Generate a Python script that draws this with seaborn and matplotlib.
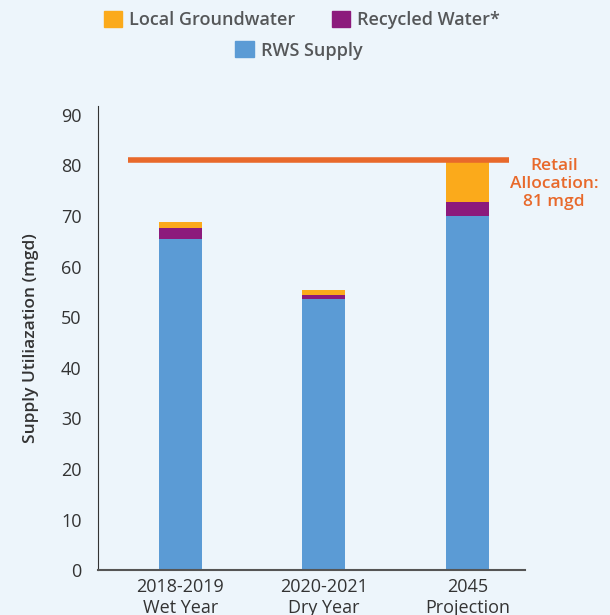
import numpy as np
import pandas as pd
import seaborn as sns
import matplotlib.pyplot as plt
from matplotlib.patches import Patch

# values (mgd)
periods = ["2018-2019\nWet Year", "2020-2021\nDry Year", "2045\nProjection"]
rws_supply = [65.5, 53.6, 70.0]
recycled = [2.1, 0.8, 2.8]
groundwater = [1.2, 1.0, 7.9]
retail_allocation = 81

bg = "#EDF5FB"
c_rws = "#5B9BD5"
c_rec = "#8C1A7C"
c_gw = "#FBAA1B"
c_line = "#E8692B"
txt = "#555759"

sns.set_style("white")
plt.rcParams["font.family"] = ["Open Sans", "DejaVu Sans"]

df = pd.DataFrame({"period": periods, "rws": rws_supply,
                   "rec": recycled, "gw": groundwater})

fig = plt.figure(figsize=(6.1, 6.15), dpi=100, facecolor=bg)
ax = fig.add_axes([0.161, 0.073, 0.70, 0.755], facecolor=bg)

bar_kw = dict(x="period", width=0.3, saturation=1, linewidth=0, ax=ax)
sns.barplot(data=df, y="rws", color=c_rws, **bar_kw)
sns.barplot(data=df, y="rec", color=c_rec, bottom=df["rws"], **bar_kw)
sns.barplot(data=df, y="gw", color=c_gw, bottom=df["rws"] + df["rec"], **bar_kw)

ax.hlines(retail_allocation, -0.36, 2.29, color=c_line, lw=4, zorder=5)
ax.text(2.60, retail_allocation + 0.4, "Retail\nAllocation:\n81 mgd",
        color=c_line, fontsize=12.5, fontweight="semibold", ha="center",
        va="top", linespacing=1.15, clip_on=False)

ax.set_xlim(-0.57, 2.40)
ax.set_ylim(0, 91.8)
ax.set_yticks(range(0, 91, 10))
ax.tick_params(axis="both", length=0, labelsize=13, labelcolor="#333333")
ax.tick_params(axis="y", pad=12)
ax.tick_params(axis="x", pad=6)
ax.set_xlabel("")
ax.set_ylabel("Supply Utiliazation (mgd)", fontsize=12.5, color="#333333",
              fontweight="semibold", labelpad=16)
for s in ["top", "right"]:
    ax.spines[s].set_visible(False)
ax.spines["left"].set_color("#333333")
ax.spines["bottom"].set_color("#555555")
ax.spines["bottom"].set_linewidth(1.5)

leg_kw = dict(frameon=False, prop={"size": 13, "weight": "semibold"},
              handlelength=1.0, handleheight=1.0, handletextpad=0.4,
              labelcolor=txt)
fig.legend(handles=[Patch(color=c_gw, label="Local Groundwater"),
                    Patch(color=c_rec, label="Recycled Water*")],
           ncol=2, columnspacing=2.0, loc="center",
           bbox_to_anchor=(0.495, 0.968), **leg_kw)
fig.legend(handles=[Patch(color=c_rws, label="RWS Supply")],
           loc="center", bbox_to_anchor=(0.49, 0.918), **leg_kw)

fig.savefig("out.png", dpi=100, facecolor=bg)
